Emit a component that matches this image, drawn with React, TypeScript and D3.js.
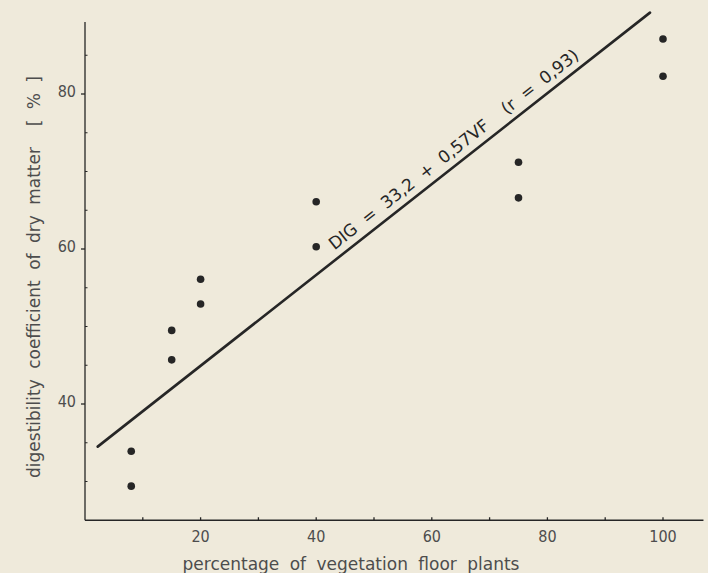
import React from 'react';
import * as d3 from 'd3';

// readings taken off the scanned figure
const vegetationFloor = [8, 8, 15, 15, 20, 20, 40, 40, 75, 75, 100, 100];
const digestibility = [33.9, 29.4, 49.5, 45.7, 56.1, 52.9, 66.1, 60.3, 71.2, 66.6, 87.1, 82.3];

// regression line as drawn (end points)
const fitVF = [2.2, 97.75];
const fitDIG = [34.5, 90.5];

const xTickLabels = [20, 40, 60, 80, 100];
const xMinorTicks = [10, 20, 30, 40, 50, 60, 70, 80, 90, 100];
const yTickLabels = [40, 60, 80];
const yMinorTicks = [30, 35, 45, 50, 55, 65, 70, 75, 85];

const equation = 'DIG = 33,2 + 0,57VF  (r = 0,93)';
const xTitle = 'percentage of vegetation floor plants';
const yTitle = 'digestibility coefficient of dry matter  [ % ]';

const width = 708;
const height = 573;
const paper = '#efeadb';
const ink = '#262626';
const textInk = '#4d4d4d';
const tickFont = '"DejaVu Sans Condensed", "DejaVu Sans", sans-serif';
const labelFont = '"DejaVu Sans", sans-serif';

const App = () => {
    const x = d3.scaleLinear().domain([0, 100]).range([85, 663]);
    const y = d3.scaleLinear().domain([40, 80]).range([404, 94]);

    const xEnd = 107;
    const yBottom = 25;
    const yTop = 89.3;

    const fitPts: [number, number][] = fitVF.map((v, i) => [x(v), y(fitDIG[i])]);
    const line = d3.line();

    // equation sits along the fitted line
    const angle = Math.atan2(fitPts[1][1] - fitPts[0][1], fitPts[1][0] - fitPts[0][0]) * 180 / Math.PI;
    const eqVF = 44;
    const t = (eqVF - fitVF[0]) / (fitVF[1] - fitVF[0]);
    const eqDIG = fitDIG[0] + t * (fitDIG[1] - fitDIG[0]);

    return (
        <svg width={width} height={height} style={{ position: 'absolute', left: 0, top: 0, background: paper }}>
            <rect x={0} y={0} width={width} height={height} fill={paper} />

            {/* axes */}
            <g stroke={ink} strokeWidth={1.3} fill="none">
                <line x1={x(0)} x2={x(0)} y1={y(yBottom)} y2={y(yTop)} />
                <line x1={x(0)} x2={x(xEnd)} y1={y(yBottom)} y2={y(yBottom)} />
                {xMinorTicks.map(v => (
                    <line key={'xt' + v} x1={x(v)} x2={x(v)} y1={y(yBottom) - 3} y2={y(yBottom)} />
                ))}
                {yTickLabels.map(v => (
                    <line key={'yt' + v} x1={x(0) - 4} x2={x(0)} y1={y(v)} y2={y(v)} />
                ))}
                {yMinorTicks.map(v => (
                    <line key={'ym' + v} x1={x(0)} x2={x(0) + 2.5} y1={y(v)} y2={y(v)} strokeWidth={1} />
                ))}
            </g>

            {/* tick labels */}
            <g fill={textInk} fontFamily={tickFont} fontSize={16}>
                {xTickLabels.map(v => (
                    <text key={'xl' + v} x={x(v)} y={542} textAnchor="middle">{v}</text>
                ))}
                {yTickLabels.map(v => (
                    <text key={'yl' + v} x={x(0) - 9} y={y(v) + 3} textAnchor="end">{v}</text>
                ))}
            </g>

            {/* axis titles */}
            <text x={351} y={570} textAnchor="middle" fill={textInk} fontFamily={labelFont}
                fontSize={17} wordSpacing={5}>{xTitle}</text>
            <text transform={`translate(40,277) rotate(-90)`} textAnchor="middle" fill={textInk}
                fontFamily={labelFont} fontSize={17} wordSpacing={5}
                style={{ whiteSpace: 'pre' }}>{yTitle}</text>

            {/* regression line */}
            <path d={line(fitPts) as string} stroke={ink} strokeWidth={2.6} fill="none" strokeLinecap="round" />
            <text transform={`translate(${x(eqVF)},${y(eqDIG)}) rotate(${angle}) translate(0,-8)`}
                fill={ink} fontFamily={labelFont} fontSize={17} wordSpacing={5}
                style={{ whiteSpace: 'pre' }}>{equation}</text>

            {/* observations */}
            <g fill={ink}>
                {vegetationFloor.map((v, i) => (
                    <circle key={i} cx={x(v)} cy={y(digestibility[i])} r={3.8} />
                ))}
            </g>
        </svg>
    );
};

export default App;
